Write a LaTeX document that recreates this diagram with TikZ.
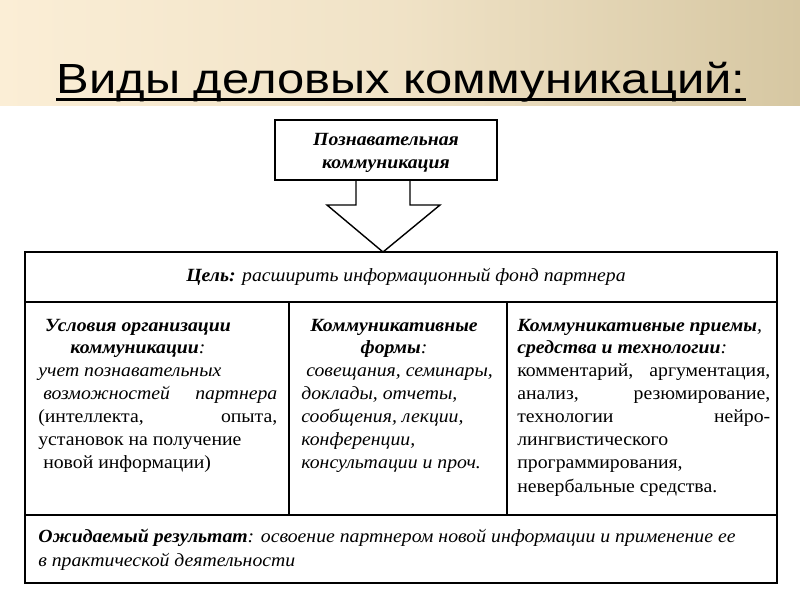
\documentclass[tikz,border=0pt]{standalone}
\usepackage{fontspec}
\setmainfont[FakeStretch=1.06]{Liberation Serif}
\newfontfamily\titlefont[FakeStretch=1.16]{Liberation Sans}
\begin{document}
\begin{tikzpicture}[x=0.02cm,y=-0.02cm,
  txt/.style={inner sep=0pt,anchor=base west,font=\fontsize{10.6pt}{12pt}\selectfont},
  ctxt/.style={inner sep=0pt,anchor=base,font=\fontsize{10.6pt}{12pt}\selectfont},
  ln/.style={line width=0.8pt}]
\useasboundingbox (0,0) rectangle (800,600);
\definecolor{bandL}{HTML}{FBEED6}
\definecolor{bandR}{HTML}{D6C7A2}
\shade[left color=bandL,right color=bandR,middle color=bandL!70!bandR] (0,0) rectangle (800,105);
\node[inner sep=0pt,anchor=base,font=\titlefont\fontsize{24pt}{28pt}\selectfont] (title) at (401,93) {Виды деловых коммуникаций:};
\draw[line width=1.6pt] ([yshift=-3.5pt]title.base west) -- ([yshift=-3.5pt]title.base east);
% top box and arrow
\draw[ln] (275,120) rectangle (497,180);
\node[ctxt,font=\fontsize{10.6pt}{12pt}\selectfont\bfseries\itshape] (t1) at (386,145) {Познавательная};
\node[ctxt,font=\fontsize{10.6pt}{12pt}\selectfont\bfseries\itshape] (t2) at (386,168) {коммуникация};
\draw[ln] (356,180) -- (356,205) -- (327,205) -- (383,252) -- (440,205) -- (410,205) -- (410,180);
% table
\draw[ln] (25,252) rectangle (777,583);
\draw[ln] (25,302) -- (777,302);
\draw[ln] (25,515) -- (777,515);
\draw[ln] (289,302) -- (289,515);
\draw[ln] (507,302) -- (507,515);
\node[ctxt] (goal) at (406,281) {\bfseries\itshape Цель: \mdseries расширить информационный фонд партнера};
% col1
\node[ctxt] (c1a) at (138,331) {\bfseries\itshape Условия организации};
\node[ctxt] (c1b) at (138,353) {\bfseries\itshape коммуникации\mdseries:};
\node[txt] (c1c) at (38,376) {\itshape учет познавательных};
\node[txt] (c1d) at (38,399) {\hbox to 4.78cm{\itshape\ возможностей\hfill партнера}};
\node[txt] (c1e) at (38,422) {\hbox to 4.78cm{(интеллекта,\hfill опыта,}};
\node[txt] (c1f) at (38,445) {установок на получение};
\node[txt] (c1g) at (38,468) {\ новой информации)};
% col2
\node[ctxt] (c2a) at (394,331) {\bfseries\itshape Коммуникативные};
\node[ctxt] (c2b) at (394,353) {\bfseries\itshape формы\mdseries:};
\node[txt] (c2c) at (301,376) {\itshape\ совещания, семинары,};
\node[txt] (c2d) at (301,399) {\itshape доклады, отчеты,};
\node[txt] (c2e) at (301,422) {\itshape сообщения, лекции,};
\node[txt] (c2f) at (301,445) {\itshape конференции,};
\node[txt] (c2g) at (301,468) {\itshape консультации и проч.};
% col3
\node[txt] (c3a) at (517,331) {\bfseries\itshape Коммуникативные приемы\mdseries,};
\node[txt] (c3b) at (517,353) {\bfseries\itshape средства и технологии\mdseries:};
\node[txt] (c3c) at (517,376) {\hbox to 5.06cm{комментарий,\hfill аргументация,}};
\node[txt] (c3d) at (517,399) {\hbox to 5.06cm{анализ,\hfill резюмирование,}};
\node[txt] (c3e) at (517,422) {\hbox to 5.06cm{технологии\hfill нейро-}};
\node[txt] (c3f) at (517,445) {лингвистического};
\node[txt] (c3g) at (517,468) {программирования,};
\node[txt] (c3h) at (517,492) {невербальные средства.};
% bottom
\node[txt] (r1) at (38,542) {\itshape\bfseries Ожидаемый результат\mdseries: освоение партнером новой информации и применение ее};
\node[txt] (r2) at (38,566) {\itshape в практической деятельности};
\end{tikzpicture}
\end{document}
